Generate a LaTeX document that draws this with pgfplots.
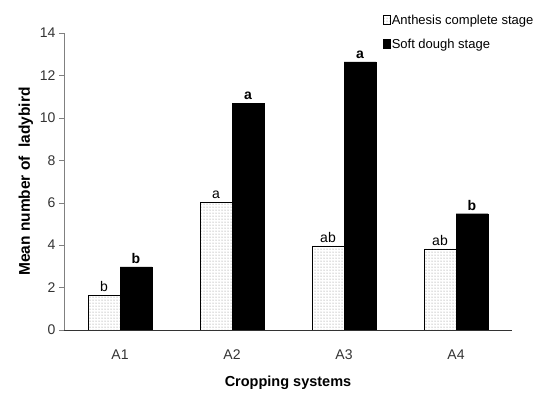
\documentclass[border=0pt]{standalone}
\usepackage{pgfplots}
\pgfplotsset{compat=1.18}
\usetikzlibrary{patterns}
\usepackage{fontspec}
\setmainfont{Liberation Sans}
\begin{document}
\begin{tikzpicture}
\begin{axis}[
  name=ax,
  scale only axis,
  width=448pt, height=297pt,
  ybar=0pt, bar width=32pt,
  xmin=-0.5, xmax=3.5,
  ymin=0, ymax=14,
  ytick={0,2,...,14},
  xtick={0,1,2,3},
  xticklabels={A1,A2,A3,A4},
  extra x ticks={-0.5,0.5,1.5,2.5,3.5},
  extra x tick labels={},
  extra x tick style={major tick length=5pt, tick style={black!70}},
  major x tick style={draw=none},
  axis x line*=bottom,
  axis y line*=left,
  y axis line style={gray},
  x axis line style={black!80},
  ytick style={gray},
  major tick length=5pt,
  tick align=outside,
  yticklabel style={font=\fontsize{14}{16}\selectfont, text=black!80},
  xticklabel style={font=\fontsize{14}{16}\selectfont, text=black!80, yshift=-11pt},
  /pgf/number format/assume math mode=true,
  ylabel={\bfseries Mean number of\ \ ladybird},
  xlabel={\bfseries Cropping systems},
  ylabel style={font=\fontsize{15.5}{17}\selectfont, yshift=0pt},
  xlabel style={font=\fontsize{14.5}{16}\selectfont, yshift=0pt},
  legend style={draw=none, fill=none, at={(0.705,1.072)}, anchor=north west,
    font=\fontsize{13}{15}\selectfont, legend cell align=left, row sep=11pt,
    nodes={inner sep=1pt}},
  legend image code/.code={\draw[#1, line width=0.6pt] (0.12cm,-0.14cm) rectangle (0.37cm,0.17cm);},
  nodes near coords style={font=\fontsize{14}{16}\selectfont, black},
]
\addplot[draw=black, fill=white, postaction={pattern=dots, pattern color=gray}, line width=0.8pt,
  nodes near coords, point meta=explicit symbolic]
  coordinates {(0,1.65)[b] (1,6.0)[a] (2,3.96)[ab] (3,3.82)[ab]};
\addplot[draw=black, fill=black,
  nodes near coords={\bfseries\pgfplotspointmeta}, point meta=explicit symbolic]
  coordinates {(0,2.98)[b] (1,10.67)[a] (2,12.64)[a] (3,5.48)[b]};
\legend{Anthesis complete stage, Soft dough stage}
\end{axis}
\path ([shift={(-64pt,-59pt)}]ax.south west) rectangle ([shift={(28pt,33pt)}]ax.north east);
\end{tikzpicture}
\end{document}
